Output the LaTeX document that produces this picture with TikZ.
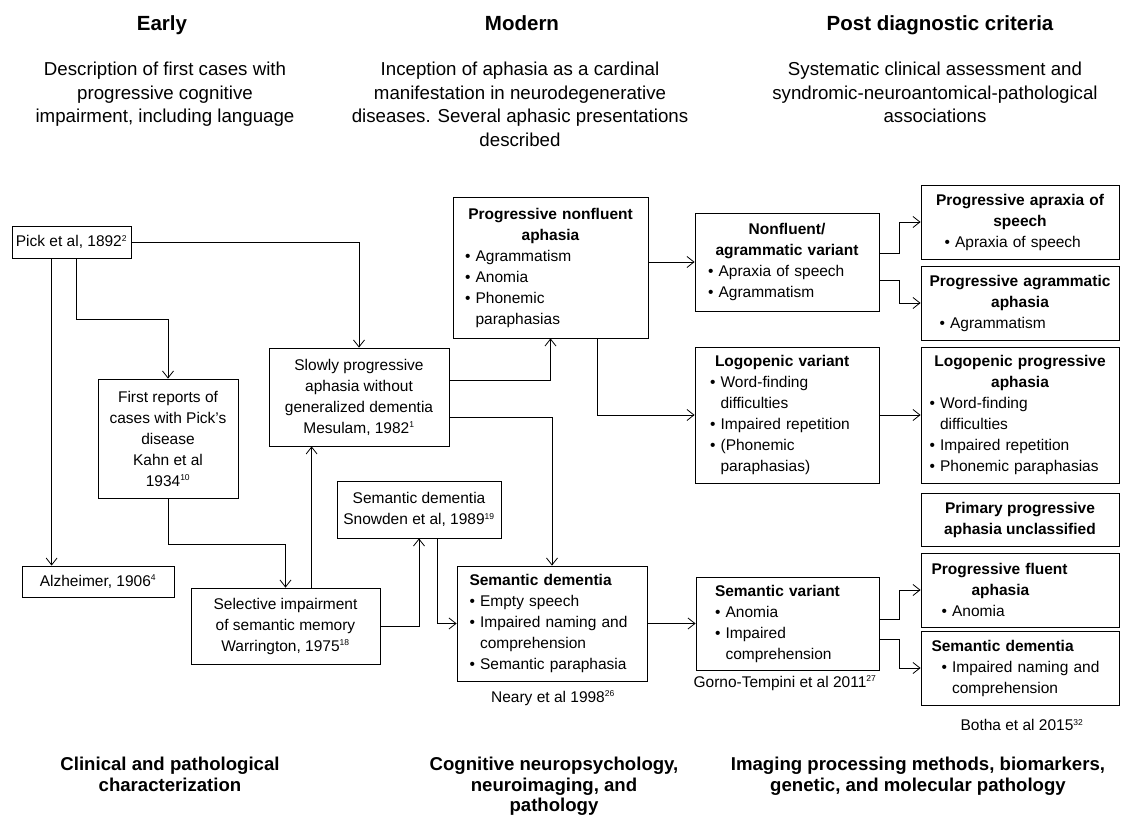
\documentclass[tikz,border=0pt]{standalone}
\usepackage{fontspec}
\setmainfont{Liberation Sans}
\usepackage{tikz}
\usetikzlibrary{arrows.meta,positioning,calc}

\newcommand{\boxfont}{\fontsize{15.5}{21}\selectfont}
\newcommand{\hd}[1]{\makebox[\linewidth]{\bfseries #1}}
\newcommand{\bl}{\textbullet\ }
\newcommand{\ind}{\phantom{\textbullet\ }}
\newcommand{\sups}[1]{\textsuperscript{\fontsize{8.5}{9}\selectfont #1}}

\begin{document}
\begin{tikzpicture}[
  x=1pt,y=-1pt,
  box/.style={draw,line width=0.8pt,inner sep=0pt,font=\boxfont,align=center},
  lst/.style={box,align=left},
  arr/.style={-{Straight Barb[length=7pt,width=11pt]},line width=0.8pt},
  era/.style={font=\fontsize{20.5}{24}\selectfont\bfseries,anchor=base},
  desc/.style={font=\fontsize{18.7}{23.5}\selectfont,align=center,anchor=north,inner sep=0pt},
  field/.style={font=\fontsize{18.6}{20.5}\selectfont\bfseries,align=center,anchor=north,inner sep=0pt},
  cite/.style={font=\boxfont,inner sep=0pt}
]
\useasboundingbox (0,0) rectangle (1122,818);

% periods
\node[era] (early)  at (162,31) {Early};
\node[era] (modern) at (522,31) {Modern};
\node[era] (post)   at (940,31) {Post diagnostic criteria};
\node[desc] (earlyd)  at (165,62) {Description of first cases with\\progressive cognitive\\impairment, including language};
\node[desc] (modernd) at (520,62) {Inception of aphasia as a cardinal\\manifestation in neurodegenerative\\diseases. Several aphasic presentations\\described};
\node[desc] (postd)   at (935,62) {Systematic clinical assessment and\\syndromic-neuroantomical-pathological\\associations};

% early and modern boxes
\node[box,minimum width=119,minimum height=32] (pick) at (71.5,242) {Pick et al, 1892\sups{2}};
\node[box,minimum width=140,minimum height=119] (kahn) at (168,438.5)
  {First reports of\\cases with Pick’s\\disease\\Kahn et al\\1934\sups{10}};
\node[box,minimum width=152,minimum height=31] (alz) at (98,581.5) {Alzheimer, 1906\sups{4}};
\node[box,minimum width=180,minimum height=98] (slow) at (359,397)
  {Slowly progressive\\aphasia without\\generalized dementia\\Mesulam, 1982\sups{1}};
\node[box,minimum width=189,minimum height=76] (sel) at (285.5,626)
  {Selective impairment\\of semantic memory\\Warrington, 1975\sups{18}};
\node[box,minimum width=164,minimum height=57] (snow) at (419,509.5)
  {Semantic dementia\\Snowden et al, 1989\sups{19}};
\node[lst,minimum width=195,minimum height=141,text width=171] (pnfa) at (550.5,267.5)
  {\hd{Progressive nonfluent}\\\hd{aphasia}\\\bl Agrammatism\\\bl Anomia\\\bl Phonemic\\\ind paraphasias};
\node[lst,minimum width=190,minimum height=115,text width=165] (sd1) at (552,623.5)
  {\textbf{Semantic dementia}\\\bl Empty speech\\\bl Impaired naming and\\\ind comprehension\\\bl Semantic paraphasia};
\node[cite] (neary) at (553,698) {Neary et al 1998\sups{26}};

% variants
\node[lst,minimum width=184,minimum height=98,text width=158] (nfv) at (787,262)
  {\hd{Nonfluent/}\\\hd{agrammatic variant}\\\bl Apraxia of speech\\\bl Agrammatism};
\node[lst,minimum width=184,minimum height=136,text width=154] (lv) at (787,415)
  {\hspace{5pt}\textbf{Logopenic variant}\\\bl Word-finding\\\ind difficulties\\\bl Impaired repetition\\\bl (Phonemic\\\ind paraphasias)};
\node[lst,minimum width=183,minimum height=93,text width=145] (sv) at (787.5,623.5)
  {\textbf{Semantic variant}\\\bl Anomia\\\bl Impaired\\\ind comprehension};
\node[cite] (gorno) at (785,683) {Gorno-Tempini et al 2011\sups{27}};

% post diagnostic criteria
\node[lst,minimum width=198,minimum height=74,text width=181] (paos) at (1020,222)
  {\hd{Progressive apraxia of}\\\hd{speech}\\\hspace{15pt}\bl Apraxia of speech};
\node[lst,minimum width=198,minimum height=74,text width=181] (paa) at (1020,303)
  {\hd{Progressive agrammatic}\\\hd{aphasia}\\\hspace{10pt}\bl Agrammatism};
\node[lst,minimum width=198,minimum height=136,text width=181] (lpa) at (1020,415)
  {\hd{Logopenic progressive}\\\hd{aphasia}\\\bl Word-finding\\\ind difficulties\\\bl Impaired repetition\\\bl Phonemic paraphasias};
\node[box,minimum width=198,minimum height=53,font=\boxfont\bfseries] (ppau) at (1020,519.5)
  {Primary progressive\\aphasia unclassified};
\node[lst,minimum width=198,minimum height=74,text width=181] (pfa) at (1020,590)
  {\hspace{2pt}\textbf{Progressive fluent}\\\hspace{42pt}\textbf{aphasia}\\\hspace{12pt}\bl Anomia};
\node[lst,minimum width=198,minimum height=74,text width=181] (sd2) at (1020,668)
  {\hspace{2pt}\textbf{Semantic dementia}\\\hspace{12pt}\bl Impaired naming and\\\hspace{12pt}\ind comprehension};
\node[cite] (botha) at (1022,725) {Botha et al 2015\sups{32}};

% fields
\node[field] (clin) at (170,757) {Clinical and pathological\\characterization};
\node[field] (cogn) at (554,757) {Cognitive neuropsychology,\\neuroimaging, and\\pathology};
\node[field] (imag) at (918,757) {Imaging processing methods, biomarkers,\\genetic, and molecular pathology};

% connectors
\coordinate (pa) at ($(pick.south west)+(40,0)$);
\coordinate (pk) at ($(pick.south west)+(65,0)$);
\coordinate (sa) at ($(sel.north west)+(121,0)$);
\draw[arr] (pick.east) -| (slow.north);
\draw[arr] (pa) -- (pa |- alz.north);
\draw[arr] (pk) -- ++(0,61) -| (kahn.north);
\draw[arr] (kahn.south) -- ++(0,46) -| (sel.north);
\draw[arr] (sa) -- (sa |- slow.south);
\draw[arr] (sel.east) -| (snow.south);
\draw[arr] ($(snow.south)+(18,0)$) |- (sd1.west);
\draw[arr] ($(slow.east)+(0,-17)$) -| (pnfa.south);
\draw[arr] ($(slow.east)+(0,20)$) -| (sd1.north);
\draw[arr] (pnfa.east |- nfv.west) -- (nfv.west);
\draw[arr] ($(pnfa.south)+(46.5,0)$) |- (lv.west);
\draw[arr] (sd1.east) -- (sv.west);
\draw[arr] ($(nfv.east)+(0,-9)$) -- ++(20,0) |- (paos.west);
\draw[arr] ($(nfv.east)+(0,18)$) -- ++(20,0) |- (paa.west);
\draw[arr] (lv.east) -- (lpa.west);
\draw[arr] ($(sv.east)+(0,-4.5)$) -- ++(20,0) |- (pfa.west);
\draw[arr] ($(sv.east)+(0,15.5)$) -- ++(20,0) |- (sd2.west);
\end{tikzpicture}
\end{document}
